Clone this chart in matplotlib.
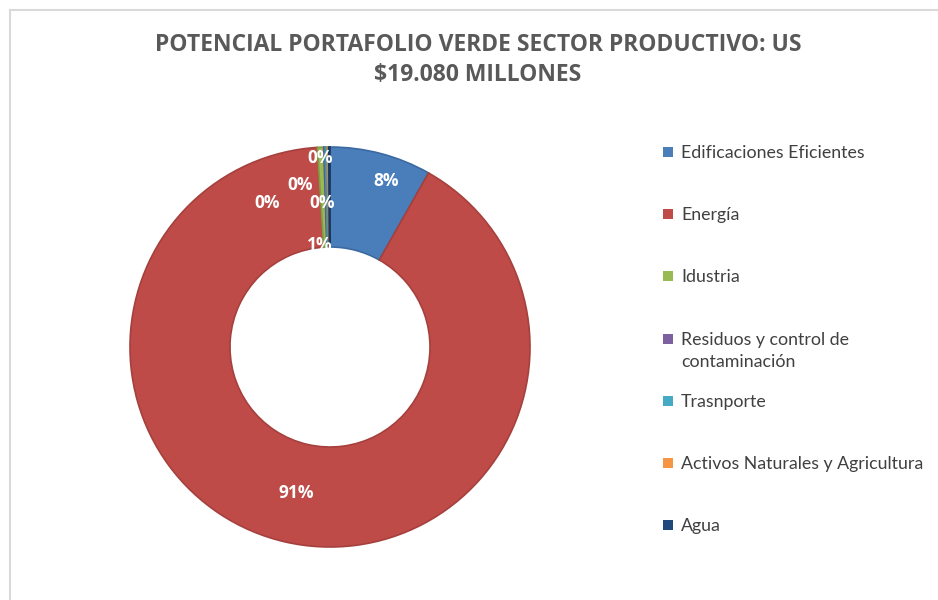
import numpy as np
import matplotlib
matplotlib.use("Agg")
import matplotlib.pyplot as plt
from matplotlib.patches import Rectangle

# data (share of portfolio, %)
sectores = ["Edificaciones Eficientes", "Energía", "Idustria",
            "Residuos y control de\ncontaminación", "Trasnporte",
            "Activos Naturales y Agricultura", "Agua"]
valores = [8.2, 90.8, 0.5, 0.1, 0.2, 0.1, 0.1]
etiquetas = ["8%", "91%", "1%", "0%", "0%", "0%", "0%"]
colores = ["#4A7EBB", "#BE4B48", "#98B954", "#7D60A0", "#46AAC5", "#F69544", "#1F497D"]
bordes = ["#3B69A0", "#A5403D", "#7F9E45", "#6A5087", "#3A93AB", "#D97E33", "#17375E"]

W, H = 938, 600
fig = plt.figure(figsize=(W / 100, H / 100), dpi=100)
fig.patch.set_facecolor("white")

# chart frame (light grey, only left/top visible in the crop)
fig.patches.append(Rectangle((10 / W, -0.05), 1.1, 1 - 10 / H + 0.05, transform=fig.transFigure,
                             fill=False, edgecolor="#D9D9D9", linewidth=1.5))

# donut
cx, cy, r = 330, 347, 200
ax = fig.add_axes([(cx - r) / W, (H - cy - r) / H, 2 * r / W, 2 * r / H])
wedges, _ = ax.pie(valores, colors=colores, startangle=90, counterclock=False,
                   radius=1.0, wedgeprops=dict(width=0.5, linewidth=1.2))
for w, b in zip(wedges, bordes):
    w.set_edgecolor(b)
ax.set_xlim(-1, 1)
ax.set_ylim(-1, 1)
ax.set_aspect("equal")
ax.axis("off")

# data labels: big slices at mid angle, small slices nudged like Excel does
lab_font = dict(color="white", fontsize=12.5, fontweight="bold", family="Open Sans",
                ha="center", va="center")
radios = [0.86, 0.75]
nudge = [(0.06, 0.0), (0.0, 0.0)]
for i in range(2):
    w = wedges[i]
    ang = np.deg2rad((w.theta1 + w.theta2) / 2)
    ax.text(radios[i] * np.cos(ang) + nudge[i][0], radios[i] * np.sin(ang) + nudge[i][1],
            etiquetas[i], **lab_font)
pos_chicas = [(-0.05, 0.51), (-0.04, 0.72), (-0.315, 0.72), (-0.15, 0.81), (-0.05, 0.945)]
for lab, (x, y) in zip(etiquetas[2:], pos_chicas):
    ax.text(x, y, lab, **lab_font)

# title
tit_font = dict(fontsize=16.5, fontweight="bold", color="#595959", family="Open Sans",
                ha="center", va="center")
fig.text(478 / W, 1 - 45 / H, "POTENCIAL PORTAFOLIO VERDE SECTOR PRODUCTIVO: US", **tit_font)
fig.text(478 / W, 1 - 75 / H, "$19.080 MILLONES", **tit_font)

# legend, drawn by hand to match Excel's spacing
ley_y = 152
for i, (nombre, col) in enumerate(zip(sectores, colores)):
    y = ley_y + i * 62.2
    fig.patches.append(Rectangle((663 / W, 1 - (y + 5) / H), 10 / W, 10 / H,
                                 transform=fig.transFigure, facecolor=col, edgecolor="none"))
    fig.text(681 / W, 1 - (y - 7) / H, nombre, fontsize=12.8, color="#404040", family="Lato",
             ha="left", va="top", linespacing=1.5)

fig.savefig("out.png", dpi=100)
